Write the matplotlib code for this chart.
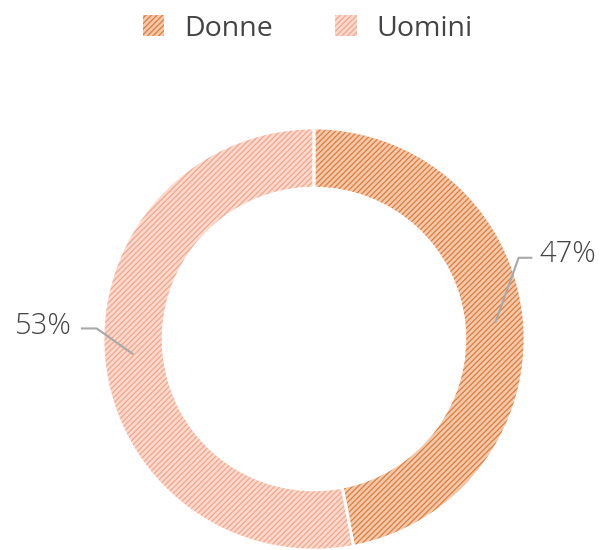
import matplotlib.pyplot as plt
from matplotlib.patches import Patch

labels = ['Donne', 'Uomini']
values = [47, 53]
face_colors = ['#f3c9ab', '#fbd9cc']
hatch_colors = ['#e07b3c', '#f4a58c']

plt.rcParams['font.family'] = ['Open Sans', 'DejaVu Sans']
plt.rcParams['hatch.linewidth'] = 0.9

fig = plt.figure(figsize=(6.01, 5.5), dpi=100)
ax = fig.add_axes([103 / 601, 0, 422 / 601, 422 / 550])

width = 0.285
hatch = '//////'

# base fill
ax.pie(values, colors=face_colors, startangle=90, counterclock=False,
       radius=1, wedgeprops=dict(width=width, linewidth=0))

# hatch layer
hatched, _ = ax.pie(values, startangle=90, counterclock=False, radius=1,
                    wedgeprops=dict(width=width, linewidth=0))
for w, hc in zip(hatched, hatch_colors):
    w.set_facecolor('none')
    w.set_edgecolor(hc)
    w.set_hatch(hatch)
    w.set_linewidth(0)

# white separators
ax.pie(values, startangle=90, counterclock=False, radius=1,
       wedgeprops=dict(width=width, linewidth=2, edgecolor='white', facecolor='none'))

ax.set_xlim(-1, 1)
ax.set_ylim(-1, 1)
ax.set_aspect('equal')

# leader lines and percentage labels
line_kw = dict(color='#a8a8a8', linewidth=1.5, clip_on=False)
ax.plot([0.86, 0.97, 1.03], [0.08, 0.385, 0.385], **line_kw)
ax.text(1.07, 0.40, f'{values[0]}%', fontsize=21, color='#444444',
        ha='left', va='center', fontweight='light')
ax.plot([-0.86, -1.03, -1.1], [-0.07, 0.05, 0.05], **line_kw)
ax.text(-1.15, 0.06, f'{values[1]}%', fontsize=21, color='#444444',
        ha='right', va='center', fontweight='light')

handles = [Patch(facecolor=fc, edgecolor=hc, hatch=hatch, linewidth=0)
           for fc, hc in zip(face_colors, hatch_colors)]
fig.legend(handles, labels, loc='upper center', bbox_to_anchor=(0.512, 1.02),
           ncol=2, frameon=False, fontsize=20.5, handlelength=0.75, handleheight=0.75,
           handletextpad=0.7, columnspacing=2.2, labelcolor='#444444')

fig.savefig('out.png', dpi=100)
